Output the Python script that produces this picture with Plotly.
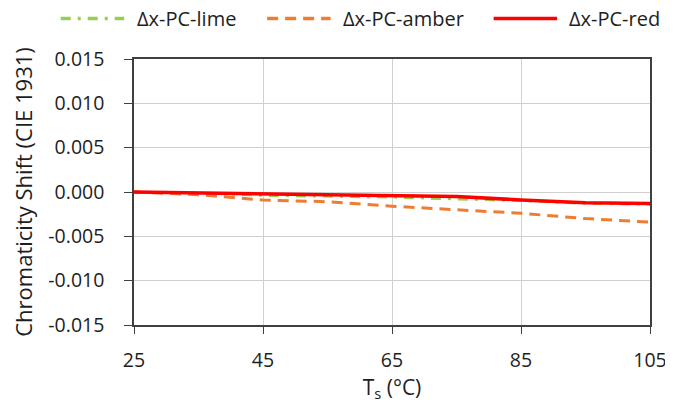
import plotly.graph_objects as go

temps = [25, 35, 45, 55, 65, 75, 85, 95, 105]
lime = [0.0, -0.0001, -0.0004, -0.0005, -0.0006, -0.0008, -0.0010, -0.0013, -0.0014]
amber = [0.0, -0.0003, -0.0009, -0.0011, -0.0016, -0.0020, -0.0024, -0.0030, -0.0034]
red = [0.0, -0.0001, -0.0002, -0.0003, -0.0004, -0.0005, -0.0009, -0.0012, -0.0013]

series_names = ["Δx-PC-lime", "Δx-PC-amber", "Δx-PC-red"]
series_colors = ["#92d050", "#ed7d31", "#ff0000"]
series_dash = ["10px,7px,3px,7px", "11px,7px", "solid"]
series_width = [2.5, 3, 3.5]

ytick_vals = [-0.015, -0.010, -0.005, 0.0, 0.005, 0.010, 0.015]
ytick_text = ["-0.015", "-0.010", "-0.005", "0.000", "0.005", "0.010", "0.015"]
xtick_vals = [25, 45, 65, 85, 105]

FONT = "Open Sans"
TXT = "#1e1e1e"
fig = go.Figure()
for yv, nm, col, ds, w in zip([lime, amber, red], series_names, series_colors, series_dash, series_width):
    fig.add_trace(go.Scatter(x=temps, y=yv, mode="lines", name=nm, showlegend=False,
                             line=dict(color=col, width=w, dash=ds)))

# custom legend (paper coordinates)
leg_sym_x0 = [-0.142, 0.258, 0.697]
leg_sym_len = 0.123
leg_y = 1.152
for x0, nm, col, ds, w in zip(leg_sym_x0, series_names, series_colors, series_dash, series_width):
    fig.add_shape(type="line", xref="paper", yref="paper", x0=x0, x1=x0 + leg_sym_len,
                  y0=leg_y, y1=leg_y, line=dict(color=col, width=3.5, dash=ds))
    fig.add_annotation(xref="paper", yref="paper", x=x0 + leg_sym_len + 0.02, y=leg_y,
                       text=nm, showarrow=False, xanchor="left", yanchor="middle",
                       font=dict(family=FONT, size=20, color=TXT))

fig.update_layout(
    width=665, height=395,
    margin=dict(l=126, r=23, t=51, b=78),
    paper_bgcolor="white", plot_bgcolor="white",
    font=dict(family=FONT, size=19.5, color=TXT),
    showlegend=False,
)
fig.update_xaxes(range=[25, 105], tickvals=xtick_vals, showgrid=True, gridcolor="#d0d0d0",
                 showline=True, linecolor="#404040", linewidth=1.5, mirror=True,
                 ticks="outside", ticklen=7, tickcolor="#404040", ticklabelstandoff=10,
                 ticklabeloverflow="allow",
                 title=dict(text="T<sub>s</sub> (°C)", standoff=10, font=dict(size=21)),
                 zeroline=False, automargin=False)
fig.update_yaxes(range=[-0.015, 0.015], tickvals=ytick_vals, ticktext=ytick_text,
                 showgrid=True, gridcolor="#d0d0d0",
                 showline=True, linecolor="#404040", linewidth=1.5, mirror=True,
                 ticks="outside", ticklen=8, tickcolor="#404040", ticklabelstandoff=16,
                 title=dict(text="Chromaticity Shift (CIE 1931)", standoff=12, font=dict(size=22)),
                 zeroline=False, automargin=False)

fig.write_html("out.html")
